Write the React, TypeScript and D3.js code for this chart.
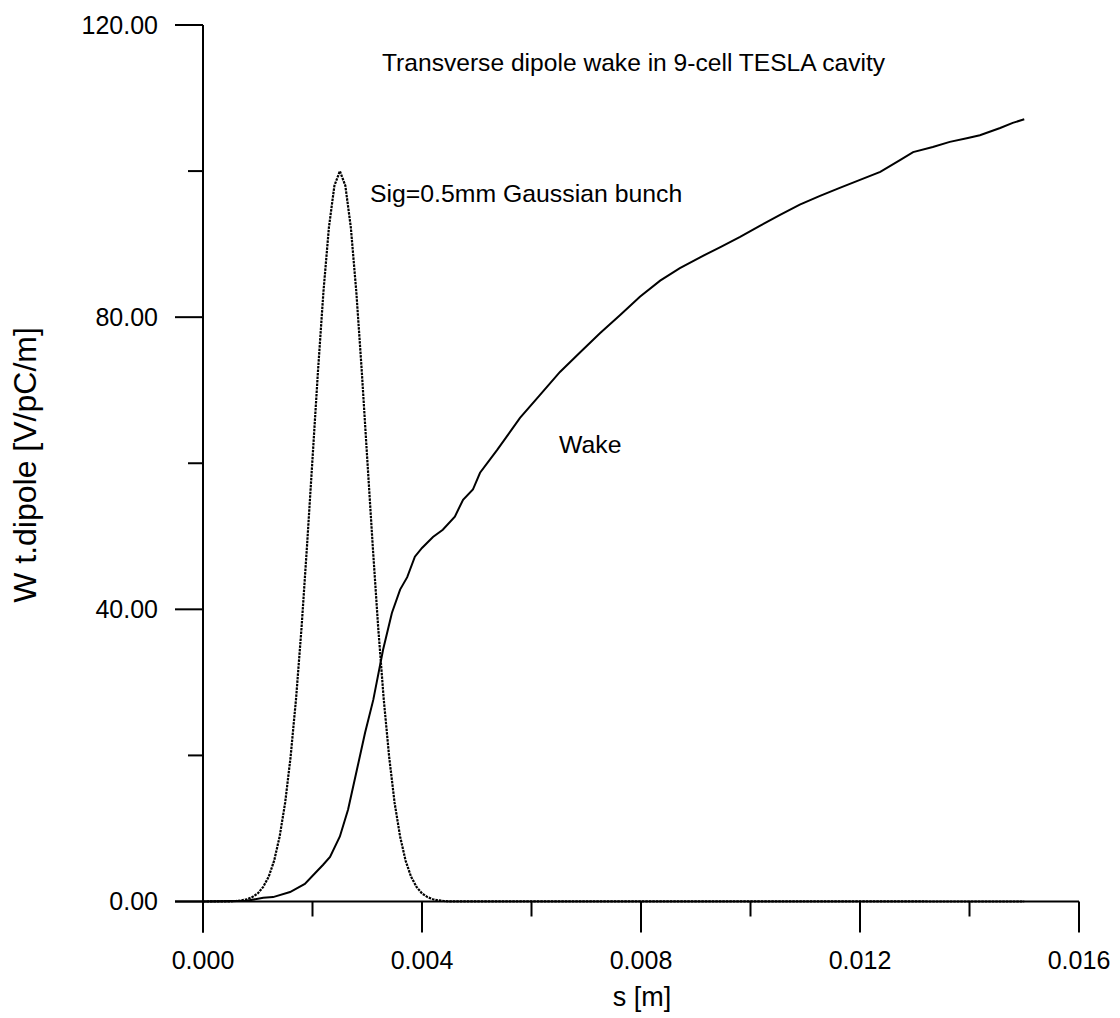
import React from "react";
import * as d3 from "d3";

// bunch profile (dotted), s in m
const bunchS = [
  0, 0.0005, 0.0006, 0.0007, 0.0008, 0.0009, 0.001, 0.0011, 0.0012, 0.0013, 0.0014,
  0.0015, 0.0016, 0.0017, 0.0018, 0.0019, 0.002, 0.0021, 0.0022, 0.0023, 0.0024,
  0.0025, 0.0026, 0.0027, 0.0028, 0.0029, 0.003, 0.0031, 0.0032, 0.0033, 0.0034,
  0.0035, 0.0036, 0.0037, 0.0038, 0.0039, 0.004, 0.0041, 0.0042, 0.0043, 0.0044,
  0.0045, 0.015,
];
const bunchW = [
  0, 0.02, 0.07, 0.15, 0.3, 0.6, 1.1, 2.0, 3.4, 5.6, 8.9,
  13.5, 19.8, 27.8, 37.5, 48.7, 60.6, 72.6, 83.5, 92.3, 98.0,
  100, 98.0, 92.3, 83.5, 72.6, 60.6, 48.7, 37.5, 27.8, 19.8,
  13.5, 8.9, 5.6, 3.4, 2.0, 1.1, 0.6, 0.3, 0.15, 0.07,
  0.02, 0,
];

// wake potential (solid)
const wakeS = [
  0, 0.0008, 0.0011, 0.00128, 0.00159, 0.00186, 0.00205, 0.00219, 0.00232, 0.0025,
  0.00265, 0.00281, 0.00296, 0.00311, 0.00329, 0.00345, 0.0036, 0.00373, 0.00387, 0.004,
  0.0042, 0.00438, 0.0046, 0.00475, 0.00493, 0.00506, 0.00537, 0.00579, 0.00616, 0.00652,
  0.00689, 0.00725, 0.00762, 0.00798, 0.00835, 0.00871, 0.00908, 0.00945, 0.00981, 0.01017,
  0.01054, 0.0109, 0.01127, 0.01163, 0.012, 0.01237, 0.01273, 0.01297, 0.01333, 0.01364,
  0.01395, 0.01419, 0.01456, 0.01479, 0.015,
];
const wakeW = [
  0, 0.1, 0.5, 0.6, 1.3, 2.4, 3.9, 5.0, 6.1, 8.9,
  12.6, 18.0, 23.1, 27.6, 34.5, 39.5, 42.7, 44.4, 47.2, 48.4,
  49.9, 50.9, 52.7, 55.0, 56.4, 58.7, 61.8, 66.2, 69.4, 72.5,
  75.2, 77.8, 80.3, 82.8, 85.0, 86.7, 88.2, 89.6, 91.0, 92.5,
  94.0, 95.4, 96.6, 97.7, 98.8, 99.9, 101.5, 102.6, 103.3, 104.0,
  104.5, 104.9, 105.9, 106.6, 107.1,
];

const xMajor = [0, 0.004, 0.008, 0.012, 0.016];
const xMinor = [0.002, 0.006, 0.01, 0.014];
const yMajor = [0, 40, 80, 120];
const yMinor = [20, 60, 100];

const title = "Transverse dipole wake in 9-cell TESLA cavity";
const bunchLabel = "Sig=0.5mm Gaussian bunch";
const wakeLabel = "Wake";
const xTitle = "s [m]";
const yTitle = "W t.dipole [V/pC/m]";

const W = 1120;
const H = 1018;
const font = "'Liberation Sans', Arial, sans-serif";

export default function App() {
  const x = d3.scaleLinear().domain([0, 0.016]).range([203, 1079]);
  const y = d3.scaleLinear().domain([0, 120]).range([901.5, 25]);

  const line = d3
    .line<[number, number]>()
    .x(d => x(d[0]))
    .y(d => y(d[1]));

  const bunch = bunchS.map((s, i) => [s, bunchW[i]] as [number, number]);
  const wake = wakeS.map((s, i) => [s, wakeW[i]] as [number, number]);

  const x0 = x(0);
  const y0 = y(0);

  return (
    <svg
      width={W}
      height={H}
      style={{ position: "absolute", left: 0, top: 0, background: "#fff" }}
      fontFamily={font}
    >
      <rect width={W} height={H} fill="#fff" />

      {/* axes */}
      <g stroke="#000" strokeWidth={2} fill="none">
        <line x1={x0} x2={x0} y1={y(120)} y2={y0 + 31} />
        <line x1={x0 - 28} x2={x(0.016)} y1={y0} y2={y0} />
        {yMajor.map(v => (
          <line key={"ym" + v} x1={x0 - 28} x2={x0} y1={y(v)} y2={y(v)} />
        ))}
        {yMinor.map(v => (
          <line key={"yn" + v} x1={x0 - 15} x2={x0} y1={y(v)} y2={y(v)} />
        ))}
        {xMajor.map(v => (
          <line key={"xm" + v} x1={x(v)} x2={x(v)} y1={y0} y2={y0 + 31} />
        ))}
        {xMinor.map(v => (
          <line key={"xn" + v} x1={x(v)} x2={x(v)} y1={y0} y2={y0 + 15} />
        ))}
      </g>

      {/* tick labels */}
      <g fontSize={25} fill="#000">
        {yMajor.map(v => (
          <text key={"yl" + v} x={x0 - 45} y={y(v)} dy="0.35em" textAnchor="end">
            {d3.format(".2f")(v)}
          </text>
        ))}
        {xMajor.map(v => (
          <text key={"xl" + v} x={x(v)} y={969} textAnchor="middle">
            {d3.format(".3f")(v)}
          </text>
        ))}
      </g>

      {/* axis titles */}
      <text x={642} y={1006} fontSize={27} textAnchor="middle">
        {xTitle}
      </text>
      <text
        transform="translate(36,465) rotate(-90)"
        fontSize={32}
        textAnchor="middle"
      >
        {yTitle}
      </text>

      {/* series */}
      <path d={line(wake) || ""} fill="none" stroke="#000" strokeWidth={2} />
      <path
        d={line(bunch) || ""}
        fill="none"
        stroke="#000"
        strokeWidth={2.2}
        strokeDasharray="2.5 1"
      />

      {/* annotations */}
      <text x={382} y={71} fontSize={24.6}>
        {title}
      </text>
      <text x={370} y={202} fontSize={24.8}>
        {bunchLabel}
      </text>
      <text x={559} y={453} fontSize={24.8}>
        {wakeLabel}
      </text>
    </svg>
  );
}
